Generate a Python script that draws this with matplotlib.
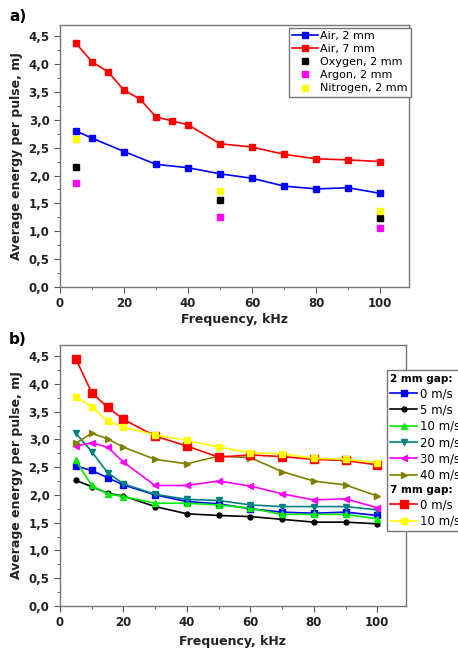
import matplotlib
matplotlib.use('Agg')
from matplotlib import pyplot as plt
from matplotlib.lines import Line2D
from matplotlib.ticker import FuncFormatter, MultipleLocator

# панель a)
freq_a_2 = [5, 10, 20, 30, 40, 50, 60, 70, 80, 90, 100]
air_2mm = [2.80, 2.67, 2.43, 2.20, 2.14, 2.03, 1.95, 1.81, 1.76, 1.78, 1.68]
freq_a_7 = [5, 10, 15, 20, 25, 30, 35, 40, 50, 60, 70, 80, 90, 100]
air_7mm = [4.37, 4.04, 3.86, 3.53, 3.37, 3.05, 2.98, 2.91, 2.57, 2.51, 2.38, 2.30, 2.28, 2.25]
freq_gas = [5, 50, 100]
oxygen = [2.16, 1.56, 1.23]
argon = [1.87, 1.25, 1.06]
nitrogen = [2.66, 1.72, 1.36]

# панель b)
freq_b = [5, 10, 15, 20, 30, 40, 50, 60, 70, 80, 90, 100]
gap2_0 = [2.52, 2.44, 2.31, 2.18, 2.00, 1.88, 1.84, 1.75, 1.69, 1.67, 1.69, 1.63]
gap2_5 = [2.26, 2.15, 2.03, 1.98, 1.79, 1.66, 1.63, 1.61, 1.56, 1.51, 1.51, 1.48]
gap2_10 = [2.62, 2.17, 2.02, 1.97, 1.85, 1.85, 1.82, 1.76, 1.65, 1.65, 1.65, 1.57]
gap2_20 = [3.11, 2.78, 2.40, 2.20, 2.01, 1.92, 1.90, 1.82, 1.79, 1.79, 1.79, 1.73]
gap2_30 = [2.88, 2.94, 2.86, 2.59, 2.17, 2.17, 2.25, 2.16, 2.02, 1.91, 1.93, 1.77]
gap2_40 = [2.93, 3.11, 3.01, 2.86, 2.64, 2.56, 2.70, 2.67, 2.42, 2.25, 2.18, 1.98]
gap7_0 = [4.45, 3.84, 3.58, 3.36, 3.06, 2.88, 2.68, 2.72, 2.69, 2.64, 2.62, 2.54]
gap7_10 = [3.77, 3.59, 3.33, 3.22, 3.08, 2.98, 2.86, 2.76, 2.74, 2.66, 2.64, 2.58]

olive = '#808000'
teal = '#008080'

comma = FuncFormatter(lambda v, p: ('%.1f' % v).replace('.', ','))


def style_axes(ax, pad):
    ax.set_xlim(0, 109)
    ax.set_ylim(0, 4.7)
    ax.xaxis.set_major_locator(MultipleLocator(20))
    ax.xaxis.set_minor_locator(MultipleLocator(10))
    ax.yaxis.set_major_locator(MultipleLocator(0.5))
    ax.yaxis.set_minor_locator(MultipleLocator(0.25))
    ax.yaxis.set_major_formatter(comma)
    ax.tick_params(which='both', direction='out', top=False, right=False, colors='#555555',
                   labelcolor='#222222')
    ax.tick_params(which='major', length=4, labelsize=8.5)
    ax.tick_params(which='minor', length=2)
    for lbl in ax.get_xticklabels() + ax.get_yticklabels():
        lbl.set_fontweight('bold')
    for s in ax.spines.values():
        s.set_color('#777777')
        s.set_linewidth(1.0)
    ax.set_xlabel('Frequency, kHz', fontsize=9, fontweight='bold', color='#222222', labelpad=pad)
    ax.set_ylabel('Average energy per pulse, mJ', fontsize=9, fontweight='bold',
                  color='#222222', labelpad=4)


fig = plt.figure(figsize=(4.58, 6.53), dpi=100)
ax1 = fig.add_axes([0.131, 0.5605, 0.762, 0.4012])
ax2 = fig.add_axes([0.131, 0.072, 0.755, 0.3997])

lw = 1.2
ax1.plot(freq_a_2, air_2mm, color='blue', marker='s', ms=5, lw=lw, label='Air, 2 mm')
ax1.plot(freq_a_7, air_7mm, color='red', marker='s', ms=5, lw=lw, label='Air, 7 mm')
ax1.plot(freq_gas, oxygen, color='black', marker='s', ms=5, ls='none', label='Oxygen, 2 mm')
ax1.plot(freq_gas, argon, color='magenta', marker='s', ms=5, ls='none', label='Argon, 2 mm')
ax1.plot(freq_gas, nitrogen, color='yellow', marker='s', ms=5, ls='none', label='Nitrogen, 2 mm')
style_axes(ax1, 2)
leg1 = ax1.legend(loc='upper left', bbox_to_anchor=(0.656, 0.99), fontsize=8, fancybox=False,
                  framealpha=1, edgecolor='#777777', handlelength=2.3, handletextpad=0.2,
                  labelspacing=0.28, borderpad=0.3, borderaxespad=0)
leg1.get_frame().set_linewidth(1.0)

ax2.plot(freq_b, gap2_0, color='blue', marker='s', ms=5, lw=lw, label='0 m/s')
ax2.plot(freq_b, gap2_5, color='black', marker='o', ms=3.5, lw=lw, label='5 m/s')
ax2.plot(freq_b, gap2_10, color='#00ee00', marker='^', ms=5, lw=lw, label='10 m/s')
ax2.plot(freq_b, gap2_20, color=teal, marker='v', ms=5, lw=lw, label='20 m/s')
ax2.plot(freq_b, gap2_30, color='magenta', marker='<', ms=5, lw=lw, label='30 m/s')
ax2.plot(freq_b, gap2_40, color=olive, marker='>', ms=5, lw=lw, label='40 m/s')
ax2.plot(freq_b, gap7_0, color='red', marker='s', ms=6, lw=lw, label='0 m/s ')
ax2.plot(freq_b, gap7_10, color='yellow', marker='s', ms=4, lw=lw, label='10 m/s ')
style_axes(ax2, 4)

h, l = ax2.get_legend_handles_labels()
blank = Line2D([], [], alpha=0)
handles = [blank] + h[:6] + [blank] + h[6:]
labels = ['2 mm gap:'] + l[:6] + ['7 mm gap:'] + l[6:]
leg2 = ax2.legend(handles, labels, loc='upper left', bbox_to_anchor=(0.945, 0.904), fontsize=8.5,
                  fancybox=False, framealpha=1, edgecolor='#777777', handlelength=2.3,
                  handletextpad=0.2, labelspacing=0.28, borderpad=0.3, borderaxespad=0)
leg2.get_frame().set_linewidth(1.0)
leg2.set_clip_on(False)
rows = leg2._legend_handle_box.get_children()[0].get_children()
for i in (0, 7):
    rows[i].get_children()[0].width = 0
    rows[i].sep = 0
    txt = leg2.get_texts()[i]
    txt.set_fontweight('bold')
    txt.set_fontsize(7.5)

fig.text(0.02, 0.975, 'a)', fontsize=11, fontweight='bold', va='center', ha='left')
fig.text(0.02, 0.48, 'b)', fontsize=11, fontweight='bold', va='center', ha='left')

fig.savefig('out.png', dpi=100)
